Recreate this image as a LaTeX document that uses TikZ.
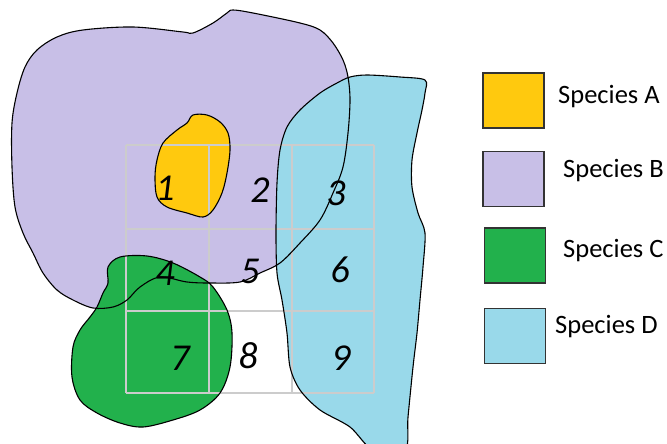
\documentclass[tikz,border=0pt]{standalone}
\usepackage{fontspec}
\setmainfont{Carlito}
\definecolor{spA}{HTML}{FFC90E}
\definecolor{spB}{HTML}{C8BFE7}
\definecolor{spC}{HTML}{22B14C}
\definecolor{spD}{HTML}{99D9EA}
\definecolor{gridgray}{HTML}{CCCCCC}
\definecolor{boxedge}{HTML}{333333}
\tikzset{
  blob/.style={draw=black, line width=1.1pt, line join=round},
  gridline/.style={draw=gridgray, line width=2pt},
  cellnum/.style={font=\fontsize{38}{38}\selectfont\itshape, anchor=base, inner sep=0pt},
  legbox/.style={draw=boxedge, line width=1.6pt, minimum width=61pt, minimum height=55pt, inner sep=0pt},
  leglabel/.style={font=\fontsize{26.5}{26.5}\selectfont, anchor=base west, inner sep=0pt},
}
\begin{document}
\begin{tikzpicture}[x=1pt, y=-1pt]
\useasboundingbox (0,0) rectangle (667,444);
\clip (0,0) rectangle (667,444);
\def\shapeB{plot[smooth cycle, tension=0.55] coordinates {(233,10) (253,13) (300,23) (320,30) (333,43) (343,60) (348,77) (350,100) (348,133) (343,167) (333,193) (320,220) (300,243) (280,263) (260,273) (240,282) (210,283) (187,282) (160,277) (140,287) (127,300) (113,307) (93,308) (73,300) (57,290) (43,273) (33,253) (23,233) (15,207) (12,167) (12,123) (17,93) (25,67) (37,50) (57,37) (83,30) (133,27) (183,32) (193,33) (213,23) (227,13)}}
\def\shapeA{plot[smooth cycle, tension=0.55] coordinates {(193,115) (207,115) (220,122) (228,133) (230,150) (227,173) (222,193) (213,210) (203,217) (187,213) (167,207) (157,197) (155,177) (157,160) (163,143) (177,130) (187,123)}}
\def\shapeC{plot[smooth cycle, tension=0.55] coordinates {(108,267) (120,257) (147,256) (173,263) (200,277) (213,287) (227,310) (232,333) (230,367) (220,393) (200,410) (173,420) (143,427) (120,423) (97,413) (80,400) (72,377) (73,347) (80,330) (90,317) (97,307) (103,293) (108,283)}}
\def\shapeD{plot[smooth cycle, tension=0.5] coordinates {(350,77) (367,75) (400,77) (425,80) (425,93) (422,110) (417,133) (412,160) (412,187) (418,213) (425,233) (423,267) (420,300) (417,333) (413,367) (408,417) (405,450) (373,450) (350,427) (320,410) (300,390) (290,367) (287,333) (282,300) (277,273) (276,233) (277,183) (280,150) (287,127) (300,110) (320,93) (337,83)}}
% fills
\fill[spB] \shapeB;
\fill[spA] \shapeA;
\fill[spC] \shapeC;
\fill[spD] \shapeD;
% grid
\foreach \gx in {126,209,292,374} \draw[gridline] (\gx,145) -- (\gx,393);
\foreach \gy in {145,229,311,393} \draw[gridline] (126,\gy) -- (374,\gy);
% outlines
\draw[blob] \shapeB;
\draw[blob] \shapeA;
\draw[blob] \shapeC;
\draw[blob] \shapeD;
% numbers
\node[cellnum] (n1) at (165,200) {1};
\node[cellnum] (n2) at (260,202) {2};
\node[cellnum] (n3) at (336,205) {3};
\node[cellnum] (n4) at (165,285) {4};
\node[cellnum] (n5) at (250,283) {5};
\node[cellnum] (n6) at (340,282) {6};
\node[cellnum] (n7) at (180,370) {7};
\node[cellnum] (n8) at (248,368) {8};
\node[cellnum] (n9) at (341,370) {9};
% legend
\node[legbox, fill=spA] (bA) at (513.5,100.5) {};
\node[legbox, fill=spB] (bB) at (513.5,179) {};
\node[legbox, fill=spC] (bC) at (515,255.5) {};
\node[legbox, fill=spD] (bD) at (515,336) {};
\node[leglabel] (lA) at (558,103) {Species A};
\node[leglabel] (lB) at (563,177) {Species B};
\node[leglabel] (lC) at (563,257) {Species C};
\node[leglabel] (lD) at (555,333) {Species D};
\end{tikzpicture}
\end{document}
